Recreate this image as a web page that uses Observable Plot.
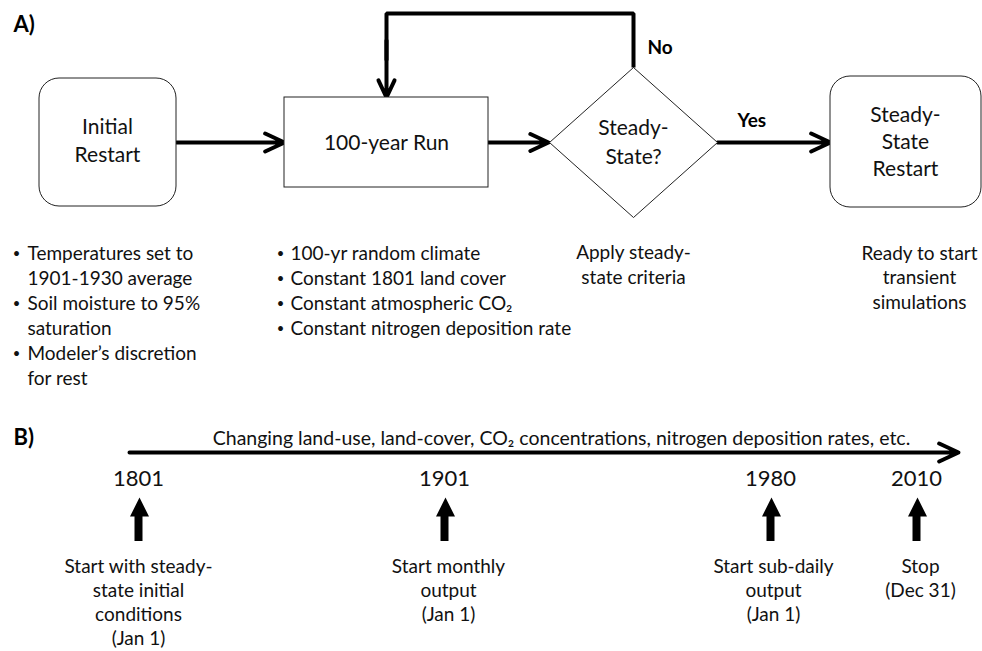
<!DOCTYPE html>
<html><head><meta charset="utf-8">
<script src="https://cdn.jsdelivr.net/npm/d3@7"></script>
<script src="https://cdn.jsdelivr.net/npm/@observablehq/plot@0.6"></script>
<style>html,body{margin:0;padding:0;background:#fff;}</style>
</head><body><div id="chart"></div>
<script>
// ---------- DATA ----------
const panelLabels = ["A)", "B)"];
const flowNodes = [["Initial", "Restart"], ["100-year Run"], ["Steady-", "State?"], ["Steady-", "State", "Restart"]];
const branchLabels = ["No", "Yes"];
const initialNotes = [["Temperatures set to", "1901-1930 average"], ["Soil moisture to 95%", "saturation"], ["Modeler’s discretion", "for rest"]];
const runNotes = ["100-yr random climate", "Constant 1801 land cover", "Constant atmospheric CO₂", "Constant nitrogen deposition rate"];
const checkNote = ["Apply steady-", "state criteria"];
const restartNote = ["Ready to start", "transient", "simulations"];
const timelineCaption = "Changing land-use, land-cover, CO₂ concentrations, nitrogen deposition rates, etc.";
const years = [1801, 1901, 1980, 2010];
const yearNotes = [["Start with steady-", "state initial", "conditions", "(Jan 1)"], ["Start monthly", "output", "(Jan 1)"], ["Start sub-daily", "output", "(Jan 1)"], ["Stop", "(Dec 31)"]];

// ---------- LAYOUT ----------
const W = 982, H = 651;
const FONT = "Lato, 'Open Sans', sans-serif";
const boxLayout = [
  {x1: 39, x2: 176, y1: 78, y2: 206, r: 20, cx: 107, cy: 141, lh: 28},
  {x1: 284, x2: 488, y1: 97, y2: 187, r: 0, cx: 386, cy: 143, lh: 28},
  null,
  {x1: 830, x2: 981, y1: 76, y2: 207, r: 20, cx: 905, cy: 142, lh: 27}
];
const diamond = {cx: 633, cy: 142, hw: 84, hh: 75, lh: 29};
const yearX = [138, 444, 770, 916];
const noteX = [138, 448, 773, 920];

function rows(lines, x, yCenter, lh, extra = {}) {
  const n = lines.length;
  return lines.map((t, i) => ({text: t, x, y: yCenter + (i - (n - 1) / 2) * lh, ...extra}));
}

const nodeText = [];
flowNodes.forEach((lines, i) => {
  if (i === 2) nodeText.push(...rows(lines, diamond.cx, diamond.cy, diamond.lh));
  else nodeText.push(...rows(lines, boxLayout[i].cx, boxLayout[i].cy, boxLayout[i].lh));
});

const roundBoxes = boxLayout.filter((b) => b && b.r > 0);
const squareBoxes = boxLayout.filter((b) => b && b.r === 0);
const diamondPts = [[0, -1], [1, 0], [0, 1], [-1, 0], [0, -1]].map(([a, b]) => ({x: diamond.cx + a * diamond.hw, y: diamond.cy + b * diamond.hh}));

const bulletText = [];
const bulletDots = [];
let yy = 253;
initialNotes.forEach((lines) => {
  bulletDots.push({x: 16, y: yy});
  lines.forEach((t) => { bulletText.push({text: t, x: 27, y: yy}); yy += 25; });
});
runNotes.forEach((t, i) => {
  bulletDots.push({x: 280, y: 253 + i * 25});
  bulletText.push({text: t, x: 290, y: 253 + i * 25});
});
const centerNotes = [
  ...rows(checkNote, 633, 265, 24.5),
  ...rows(restartNote, 919, 277.5, 24.5)
];

const flowArrows = [
  {x1: 176, y1: 142, x2: 284, y2: 142},
  {x1: 488, y1: 142, x2: 548, y2: 142},
  {x1: 717, y1: 142, x2: 830, y2: 142},
  {x1: 386, y1: 40, x2: 386, y2: 97}
];
const loopPath = [{x: 633, y: 67}, {x: 633, y: 13}, {x: 386, y: 13}, {x: 386, y: 60}];
const branchPos = [{x: 647, y: 47}, {x: 737, y: 120}];

const yearLabels = years.map((y, i) => ({text: String(y), x: yearX[i], y: 478}));
const shafts = years.map((y, i) => ({x: yearX[i], y1: 514, y2: 541}));
const heads = [];
years.forEach((y, i) => {
  const x = yearX[i] + 1;
  heads.push({k: y, x: x, y: 497}, {k: y, x: x + 9.5, y: 516}, {k: y, x: x - 9.5, y: 516}, {k: y, x: x, y: 497});
});
const notes = [];
yearNotes.forEach((lines, i) => {
  lines.forEach((t, j) => notes.push({text: t, x: noteX[i], y: 566 + j * 24.3}));
});

const chart = Plot.plot({
  width: W, height: H, margin: 0,
  x: {domain: [0, W], range: [0, W], axis: null},
  y: {domain: [0, H], range: [0, H], axis: null},
  style: {fontFamily: FONT, background: "#fff"},
  marks: [
    Plot.text(panelLabels, {x: [13, 13], y: [24, 437], text: (d) => d, textAnchor: "start", fontSize: 22, fontWeight: "bold", fill: "#000"}),
    Plot.line(loopPath, {x: "x", y: "y", stroke: "#000", strokeWidth: 4, strokeLinejoin: "miter", strokeLinecap: "butt"}),
    Plot.arrow(flowArrows, {x1: "x1", y1: "y1", x2: "x2", y2: "y2", stroke: "#000", strokeWidth: 4, headLength: 8, headAngle: 50}),
    Plot.rect(roundBoxes, {x1: "x1", x2: "x2", y1: "y1", y2: "y2", rx: 20, fill: "#fff", stroke: "#222", strokeWidth: 1}),
    Plot.rect(squareBoxes, {x1: "x1", x2: "x2", y1: "y1", y2: "y2", fill: "#fff", stroke: "#222", strokeWidth: 1}),
    Plot.line(diamondPts, {x: "x", y: "y", fill: "#fff", stroke: "#222", strokeWidth: 1}),
    Plot.text(nodeText, {x: "x", y: "y", text: "text", fontSize: 21, fill: "#111"}),
    Plot.text(branchLabels, {x: branchPos.map((d) => d.x), y: branchPos.map((d) => d.y), text: (d) => d, textAnchor: "start", fontSize: 19, fontWeight: "bold", fill: "#000"}),
    Plot.text(bulletDots, {x: "x", y: "y", text: () => "•", fontSize: 13, fill: "#111"}),
    Plot.text(bulletText, {x: "x", y: "y", text: "text", textAnchor: "start", fontSize: 19, fill: "#111"}),
    Plot.text(centerNotes, {x: "x", y: "y", text: "text", fontSize: 19, fill: "#111"}),
    Plot.text([timelineCaption], {x: [561], y: [438], text: (d) => d, fontSize: 19.5, fill: "#111"}),
    Plot.arrow([{x1: 129, x2: 958, y: 452}], {x1: "x1", x2: "x2", y1: "y", y2: "y", stroke: "#000", strokeWidth: 4, headLength: 8, headAngle: 50}),
    Plot.text(yearLabels, {x: "x", y: "y", text: "text", fontSize: 22, fill: "#111"}),
    Plot.ruleX(shafts, {x: "x", y1: "y1", y2: "y2", stroke: "#000", strokeWidth: 8}),
    Plot.line(heads, {x: "x", y: "y", z: "k", fill: "#000", stroke: "none"}),
    Plot.text(notes, {x: "x", y: "y", text: "text", fontSize: 19, fill: "#111"})
  ]
});
document.getElementById("chart").appendChild(chart);
</script>
</body></html>
